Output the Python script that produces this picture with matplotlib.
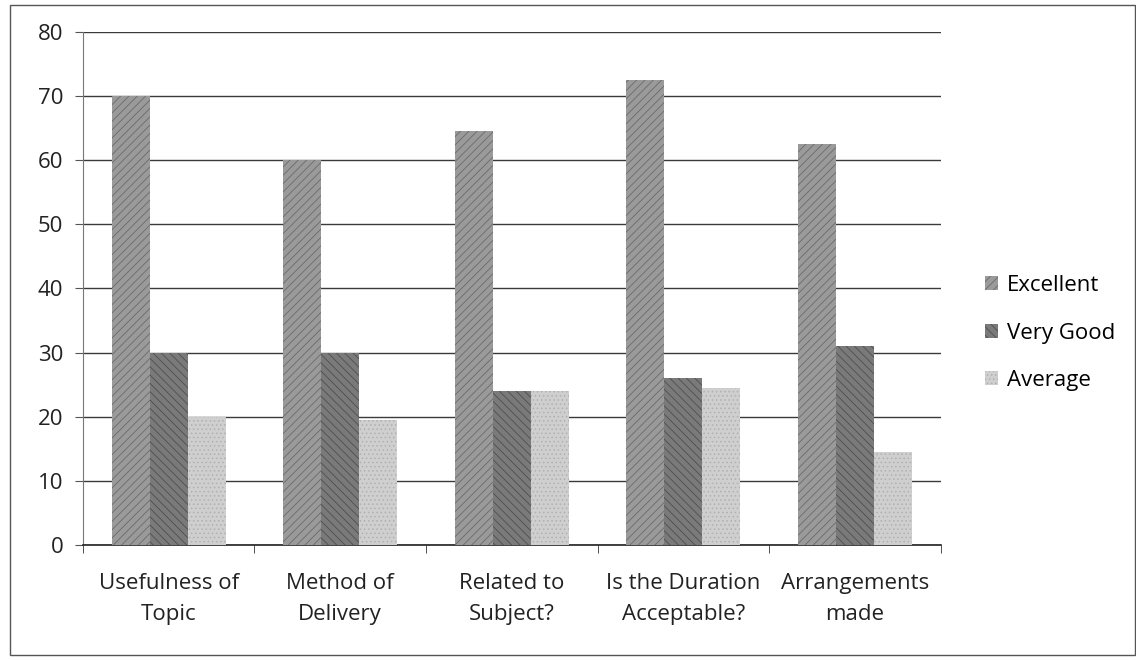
import numpy as np
import matplotlib.pyplot as plt
from matplotlib.patches import Rectangle

# data
categories = ["Usefulness of\nTopic", "Method of\nDelivery", "Related to\nSubject?",
              "Is the Duration\nAcceptable?", "Arrangements\nmade"]
excellent = [70, 60, 64.5, 72.5, 62.5]
very_good = [30, 30, 24, 26, 31]
average = [20, 19.5, 24, 24.5, 14.5]

plt.rcParams['font.family'] = ['Open Sans', 'DejaVu Sans']

fig = plt.figure(figsize=(11.36, 6.6), dpi=100)
ax = fig.add_axes([0.073, 0.174, 0.755, 0.778])

x = np.arange(len(categories))
w = 0.222
plt.rcParams['hatch.linewidth'] = 0.6
ax.bar(x - w, excellent, w, color='#9a9a9a', hatch='////', edgecolor='#6a6a6a', linewidth=0,
       label='Excellent', zorder=3)
ax.bar(x, very_good, w, color='#7a7a7a', hatch='\\\\\\\\', edgecolor='#4e4e4e', linewidth=0,
       label='Very Good', zorder=3)
ax.bar(x + w, average, w, color='#cfcfcf', hatch='....', edgecolor='#b0b0b0', linewidth=0,
       label='Average', zorder=3)

ax.set_ylim(0, 80)
ax.set_xlim(-0.5, len(categories) - 0.5)
ax.set_yticks(range(0, 81, 10))
ax.yaxis.grid(True, color='#3a3a3a', linewidth=1.0, zorder=0)
ax.set_xticks(x)
ax.set_xticklabels(categories, fontsize=16, color='#222222', linespacing=1.6)
ax.set_xticks(np.arange(-0.5, len(categories)), minor=True)
ax.tick_params(axis='x', which='major', length=0, pad=20)
ax.tick_params(axis='x', which='minor', length=6, direction='out', color='#333333')
ax.tick_params(axis='y', labelsize=16, length=6, color='#555555', labelcolor='#222222', pad=8)

for s in ['top', 'right']:
    ax.spines[s].set_visible(False)
ax.spines['left'].set_color('#777777')
ax.spines['bottom'].set_color('#222222')
ax.spines['bottom'].set_linewidth(1.2)

ax.legend(loc='center left', bbox_to_anchor=(1.028, 0.413), frameon=False, fontsize=16,
          handlelength=0.6, handleheight=0.6, handletextpad=0.4, labelspacing=1.2)

# outer frame of the scanned chart
fig.patches.append(Rectangle((0.009, 0.008), 0.99, 0.985, transform=fig.transFigure,
                             fill=False, edgecolor='#555555', linewidth=1.0))

fig.savefig('out.png', dpi=100)
